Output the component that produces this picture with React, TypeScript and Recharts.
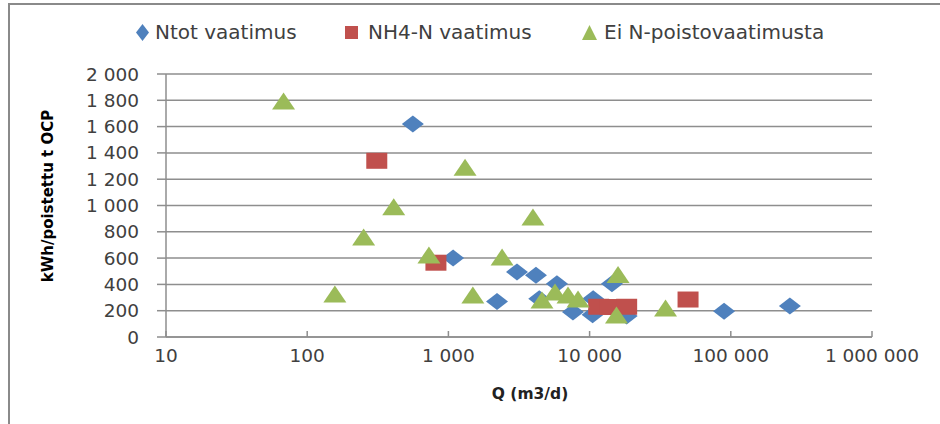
import React from 'react';
import { ScatterChart, Scatter, XAxis, YAxis, CartesianGrid } from 'recharts';

// Q (m3/d) and kWh/poistettu t OCP
const ntotQ = [560, 1080, 2210, 3060, 4170, 4400, 5870, 7620, 10600, 10500, 14400, 18300, 89600, 262000];
const ntotKwh = [1620, 600, 270, 495, 470, 290, 405, 190, 290, 170, 405, 160, 195, 235];

const nh4Q = [311, 816, 11600, 14000, 18300, 49800];
const nh4Kwh = [1340, 565, 230, 228, 230, 285];

const eiQ = [68, 157, 251, 410, 728, 1312, 1490, 2400, 3970, 4600, 5690, 7030, 8280, 15900, 15500, 34500];
const eiKwh = [1795, 327, 760, 990, 624, 1290, 319, 608, 913, 281, 342, 319, 289, 475, 167, 220];

const xTicks = [10, 100, 1000, 10000, 100000, 1000000];
const yTicks = [0, 200, 400, 600, 800, 1000, 1200, 1400, 1600, 1800, 2000];

const seriesNames = ['Ntot vaatimus', 'NH4-N vaatimus', 'Ei N-poistovaatimusta'];

const BLUE = '#4f81bd';
const RED = '#c0504d';
const GREEN = '#9bbb59';
const GRID = '#8e8e8e';
const TEXT = '#404040';

const toPoints = (qs: number[], ys: number[]) => qs.map((q, i) => ({ q, kwh: ys[i] }));

const ntotData = toPoints(ntotQ, ntotKwh);
const nh4Data = toPoints(nh4Q, nh4Kwh);
const eiData = toPoints(eiQ, eiKwh);

const fmt = (v: number) => String(v).replace(/\B(?=(\d{3})+(?!\d))/g, ' ');

const Diamond = (props: any) => {
    const { cx, cy } = props;
    return <polygon points={`${cx},${cy - 8.5} ${cx + 11},${cy} ${cx},${cy + 8.5} ${cx - 11},${cy}`} fill={BLUE} />;
};

const Square = (props: any) => {
    const { cx, cy } = props;
    return <rect x={cx - 10.5} y={cy - 8} width={21} height={16} fill={RED} />;
};

const Triangle = (props: any) => {
    const { cx, cy } = props;
    return <polygon points={`${cx},${cy - 8.5} ${cx + 11.5},${cy + 8.5} ${cx - 11.5},${cy + 8.5}`} fill={GREEN} />;
};

const XTick = (props: any) => {
    const { x, y, payload } = props;
    return (
        <g>
            <line x1={x} x2={x} y1={y - 6} y2={y} stroke={GRID} strokeWidth={1.5} />
            <text x={x} y={y + 25} textAnchor="middle" fill={TEXT} fontSize={18.5} fontFamily="DejaVu Sans">
                {fmt(payload.value)}
            </text>
        </g>
    );
};

const legendText: React.CSSProperties = {
    position: 'absolute',
    top: 20,
    fontFamily: 'DejaVu Sans',
    fontSize: 20,
    color: TEXT,
    whiteSpace: 'nowrap',
    lineHeight: '24px',
};

const App = () => {
    return (
        <div style={{ position: 'absolute', left: 0, top: 0, width: 940, height: 424, overflow: 'hidden', background: '#fff' }}>
            <div style={{ position: 'absolute', left: 8, top: 3, width: 1000, height: 600, borderLeft: '2px solid #8a8a8a', borderTop: '2px solid #8a8a8a' }} />

            <svg style={{ position: 'absolute', left: 134, top: 23 }} width={17} height={19}>
                <polygon points="8.5,1 15,9.5 8.5,18 2,9.5" fill={BLUE} />
            </svg>
            <div style={{ ...legendText, left: 155 }}>{seriesNames[0]}</div>
            <svg style={{ position: 'absolute', left: 344, top: 25 }} width={15} height={15}>
                <rect x={1} y={1} width={13} height={13} fill={RED} />
            </svg>
            <div style={{ ...legendText, left: 368 }}>{seriesNames[1]}</div>
            <svg style={{ position: 'absolute', left: 581, top: 24 }} width={17} height={17}>
                <polygon points="8.5,1 16,16 1,16" fill={GREEN} />
            </svg>
            <div style={{ ...legendText, left: 604 }}>{seriesNames[2]}</div>

            <ScatterChart
                width={940}
                height={424}
                margin={{ top: 74, right: 68, bottom: 27, left: 66 }}
                style={{ position: 'absolute', left: 0, top: 0 }}
            >
                <CartesianGrid horizontal vertical={false} stroke={GRID} strokeWidth={1.5} />
                <XAxis
                    dataKey="q"
                    type="number"
                    scale="log"
                    domain={[10, 1000000]}
                    ticks={xTicks}
                    allowDataOverflow
                    height={60}
                    tickLine={false}
                    tickSize={0}
                    tickMargin={0}
                    tick={<XTick />}
                    axisLine={{ stroke: GRID, strokeWidth: 1.5 }}
                    label={{
                        content: () => (
                            <text x={530} y={399} textAnchor="middle" fontFamily="DejaVu Sans" fontWeight="bold" fontSize={15.5} fill="#222">
                                Q (m3/d)
                            </text>
                        ),
                    }}
                />
                <YAxis
                    dataKey="kwh"
                    type="number"
                    domain={[0, 2000]}
                    ticks={yTicks}
                    width={100}
                    tickSize={9}
                    tickMargin={18}
                    tickFormatter={fmt}
                    tick={{ fill: TEXT, fontSize: 18.5, fontFamily: 'DejaVu Sans' }}
                    tickLine={{ stroke: GRID, strokeWidth: 1.5 }}
                    axisLine={{ stroke: GRID, strokeWidth: 1.5 }}
                    label={{
                        content: () => (
                            <text
                                x={53}
                                y={196}
                                transform="rotate(-90 53 196)"
                                textAnchor="middle"
                                fontFamily="DejaVu Sans"
                                fontWeight="bold"
                                fontSize={15}
                                fill="#000"
                            >
                                kWh/poistettu t OCP
                            </text>
                        ),
                    }}
                />
                <Scatter name={seriesNames[0]} data={ntotData} shape={<Diamond />} isAnimationActive={false} />
                <Scatter name={seriesNames[1]} data={nh4Data} shape={<Square />} isAnimationActive={false} />
                <Scatter name={seriesNames[2]} data={eiData} shape={<Triangle />} isAnimationActive={false} />
            </ScatterChart>
        </div>
    );
};

export default App;
